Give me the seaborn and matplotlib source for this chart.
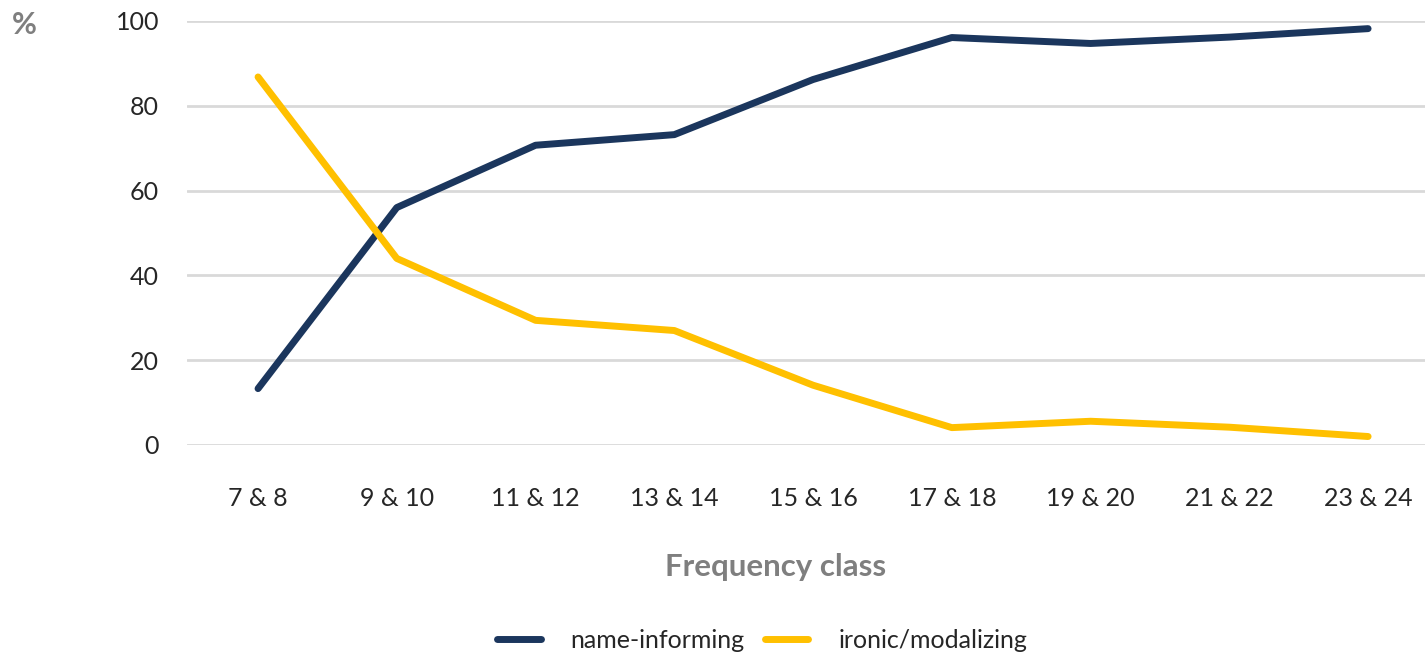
import matplotlib
matplotlib.use("Agg")
import matplotlib.pyplot as plt
import pandas as pd
import seaborn as sns

# Data
categories = ["7 & 8", "9 & 10", "11 & 12", "13 & 14", "15 & 16",
              "17 & 18", "19 & 20", "21 & 22", "23 & 24"]
name_informing = [13.3, 56.0, 70.7, 73.2, 86.2, 96.1, 94.7, 96.2, 98.2]
ironic_modalizing = [86.8, 44.0, 29.4, 27.0, 14.1, 4.1, 5.6, 4.2, 2.0]
series_names = ["name-informing", "ironic/modalizing"]
y_ticks = [0, 20, 40, 60, 80, 100]

NAVY = "#1b365d"
YELLOW = "#ffc000"

df = pd.DataFrame({
    "class": categories * 2,
    "pos": list(range(len(categories))) * 2,
    "value": name_informing + ironic_modalizing,
    "series": [series_names[0]] * len(categories) + [series_names[1]] * len(categories),
})

sns.set_style("white")
plt.rcParams["font.family"] = ["Lato", "DejaVu Sans"]

fig = plt.figure(figsize=(14.25, 6.55), dpi=100)
ax = fig.add_axes([187 / 1425, 1 - 445 / 655, 1238 / 1425, 424 / 655])

sns.lineplot(data=df, x="pos", y="value", hue="series", palette=[NAVY, YELLOW],
             linewidth=5, ax=ax, legend=False, sort=False)
for line in ax.lines:
    line.set_solid_capstyle("round")
    line.set_clip_on(False)

# Axes formatting
ax.set_xlim(-0.512, 8.41)
ax.set_ylim(0, 100)
ax.set_yticks(y_ticks)
ax.set_xticks(range(len(categories)))
ax.set_xticklabels(categories)
ax.yaxis.grid(True, color="#d9d9d9", linewidth=2)
ax.set_axisbelow(True)
for spine in ax.spines.values():
    spine.set_visible(False)
ax.tick_params(axis="y", length=0, pad=20, labelsize=18, labelcolor="#262626")
ax.tick_params(axis="x", length=0, pad=30, labelsize=18, labelcolor="#262626")
ax.set_xlabel("")
ax.set_ylabel("")

fig.text(776 / 1425, 1 - 567 / 655, "Frequency class", fontsize=22.5, fontweight="bold",
         color="#7f7f7f", ha="center", va="center")
fig.text(12 / 1425, 1 - 25 / 655, "%", fontsize=22, fontweight="bold", color="#7f7f7f",
         va="center", ha="left")

# Legend
handles = [plt.Line2D([], [], color=NAVY, linewidth=5),
           plt.Line2D([], [], color=YELLOW, linewidth=5)]
fig.legend(handles, series_names, loc="center", bbox_to_anchor=(762 / 1425, 1 - 640 / 655),
           ncol=2, frameon=False, fontsize=18, handlelength=1.75,
           handletextpad=1.2, columnspacing=0.8)

fig.savefig("out.png", dpi=100)
